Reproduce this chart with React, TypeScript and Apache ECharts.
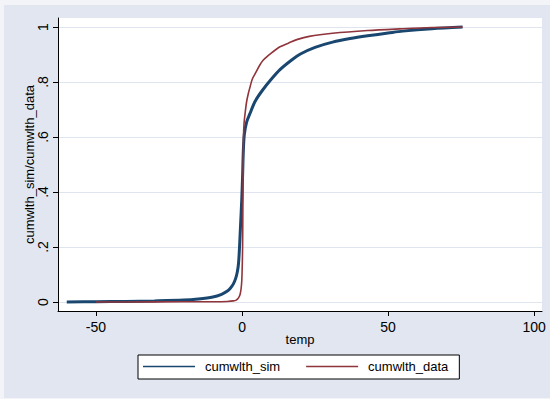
import React, { useEffect, useRef } from "react";
import * as echarts from "echarts";

// temp values and cumulative shares
const simTemp = [-60, -50, -40, -30, -20, -15, -10, -7, -5, -4, -3, -2.2, -1.6, -1.2, -0.9, -0.5, -0.1, 0.2, 0.45, 0.8, 1.6, 2.7, 4.5, 7, 10, 13, 17, 20, 25, 31, 37, 43, 50, 55, 65, 75.5];
const simVal = [0, 0.001, 0.002, 0.004, 0.007, 0.011, 0.018, 0.028, 0.04, 0.05, 0.065, 0.085, 0.11, 0.14, 0.19, 0.28, 0.37, 0.46, 0.55, 0.61, 0.655, 0.685, 0.73, 0.77, 0.81, 0.845, 0.88, 0.902, 0.926, 0.945, 0.958, 0.968, 0.978, 0.985, 0.994, 1.0];

const dataTemp = [-50, -30, -10, -5, -3, -2, -1.2, -0.6, -0.2, 0, 0.2, 0.3, 0.4, 0.5, 0.7, 1.1, 1.6, 2.2, 2.7, 3.5, 4.5, 6, 7.3, 10, 13, 16, 19, 23, 31, 43, 54, 65, 75.5];
const dataVal = [0, 0.0005, 0.001, 0.002, 0.004, 0.007, 0.015, 0.03, 0.06, 0.1, 0.2, 0.35, 0.5, 0.6, 0.65, 0.69, 0.73, 0.76, 0.78, 0.81, 0.83, 0.86, 0.88, 0.905, 0.928, 0.942, 0.955, 0.966, 0.977, 0.987, 0.993, 0.998, 1.0];

const xTicks = [-50, 0, 50, 100];
const yTicks = [0, 0.2, 0.4, 0.6, 0.8, 1];

const seriesNames = ["cumwlth_sim", "cumwlth_data"];
const xTitle = "temp";
const yTitle = "cumwlth_sim/cumwlth_data";

const FONT = "'Liberation Sans', Arial, sans-serif";
const LINE_ICON = "path://M0,0 H52 V1.3 H0 Z";

function zip(a: number[], b: number[]) {
  return a.map((v, i) => [v, b[i]]);
}

export default function App() {
  const ref = useRef<HTMLDivElement>(null);
  useEffect(() => {
    if (!ref.current) return;
    const chart = echarts.init(ref.current, undefined, { renderer: "svg" });
    chart.setOption({
      animation: false,
      backgroundColor: "#f3f4f7",
      textStyle: { fontFamily: FONT },
      graphic: [
        {
          type: "rect",
          z: -10,
          silent: true,
          shape: { x: 4, y: 5, width: 546, height: 393 },
          style: { fill: "#e1e6f0" },
        },
      ],
      grid: {
        left: 58,
        top: 18,
        right: 8,
        bottom: 88,
        show: true,
        backgroundColor: "#ffffff",
        borderWidth: 0,
      },
      xAxis: {
        type: "value",
        min: -63,
        max: 102.7,
        name: xTitle,
        nameLocation: "middle",
        nameGap: 22,
        nameMoveOverlap: false,
        nameTextStyle: { fontSize: 13, color: "#000", fontFamily: FONT },
        axisLine: { show: true, onZero: false, lineStyle: { color: "#000", width: 1 } },
        axisTick: { show: true, customValues: xTicks, length: 5, lineStyle: { color: "#000" } },
        axisLabel: {
          customValues: xTicks,
          fontSize: 14,
          color: "#000",
          margin: 9,
          fontFamily: FONT,
        },
        splitLine: { show: false },
      },
      yAxis: {
        type: "value",
        min: -0.0327,
        max: 1.0327,
        name: yTitle,
        nameLocation: "middle",
        nameGap: 22,
        nameMoveOverlap: false,
        nameTextStyle: { fontSize: 13, color: "#000", fontFamily: FONT },
        axisLine: { show: true, onZero: false, lineStyle: { color: "#000", width: 1 } },
        axisTick: { show: true, customValues: yTicks, length: 5, lineStyle: { color: "#000" } },
        axisLabel: {
          customValues: yTicks,
          rotate: 90,
          fontSize: 14,
          color: "#000",
          margin: 8,
          fontFamily: FONT,
          formatter: (v: number) => {
            const r = Math.round(v * 10) / 10;
            if (r === 0) return "0";
            if (r === 1) return "1";
            return String(r).replace(/^0/, "");
          },
        },
        splitLine: { show: true, lineStyle: { color: "#dfe5ee", width: 1 } },
      },
      legend: {
        left: 138,
        top: 355,
        orient: "horizontal",
        backgroundColor: "#ffffff",
        borderColor: "#000",
        borderWidth: 1,
        borderRadius: 0,
        padding: [5, 11, 6, 5],
        itemWidth: 52,
        itemHeight: 14,
        itemGap: 26,
        icon: LINE_ICON,
        textStyle: { fontSize: 13, color: "#000", fontFamily: FONT, padding: [0, 0, 0, 5] },
        data: seriesNames,
      },
      series: [
        {
          name: seriesNames[0],
          type: "line",
          data: zip(simTemp, simVal),
          symbol: "none",
          showSymbol: false,
          smooth: 0.3,
          lineStyle: { color: "#1a476f", width: 3 },
          itemStyle: { color: "#1a476f" },
        },
        {
          name: seriesNames[1],
          type: "line",
          data: zip(dataTemp, dataVal),
          symbol: "none",
          showSymbol: false,
          smooth: 0.3,
          lineStyle: { color: "#90353b", width: 1.6 },
          itemStyle: { color: "#90353b" },
        },
      ],
    });
    return () => chart.dispose();
  }, []);
  return (
    <div
      ref={ref}
      style={{ width: 550, height: 399, position: "absolute", left: 0, top: 0 }}
    />
  );
}
